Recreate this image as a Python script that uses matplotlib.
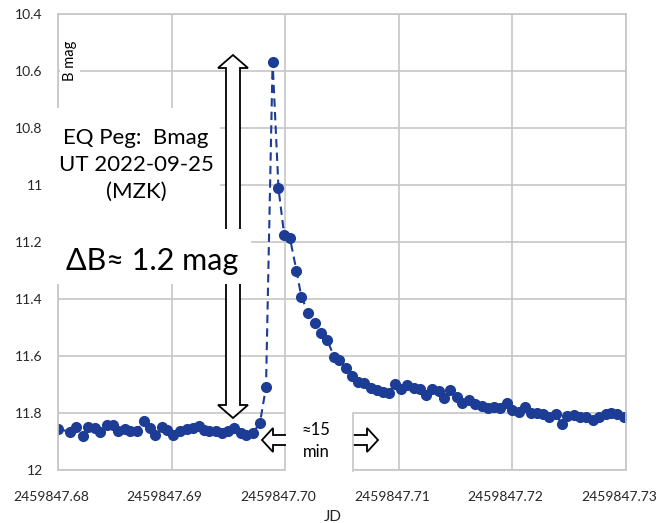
import matplotlib
matplotlib.use('Agg')
import matplotlib.pyplot as plt
import matplotlib.patches as mpatches
from matplotlib.lines import Line2D
from matplotlib.ticker import FormatStrFormatter, FuncFormatter
from matplotlib.transforms import Affine2D, ScaledTranslation

plt.rcParams['font.family'] = ['Lato', 'DejaVu Sans']

# Кривая блеска EQ Peg, фильтр B
jd_base = 2459847
jd_offset = [
    0.68000, 0.68105, 0.68158, 0.68217, 0.68263, 0.68325, 0.68368, 0.68427,
    0.68482, 0.68526, 0.68588, 0.68632, 0.68693, 0.68754, 0.68807, 0.68851,
    0.68912, 0.68956, 0.69009, 0.69070, 0.69132, 0.69184, 0.69237, 0.69281,
    0.69333, 0.69395, 0.69447, 0.69500, 0.69553, 0.69614, 0.69658, 0.69719,
    0.69778, 0.69831, 0.69889, 0.69941, 0.69991, 0.70041, 0.70099, 0.70143,
    0.70204, 0.70263, 0.70313, 0.70371, 0.70430, 0.70474, 0.70533, 0.70585,
    0.70643, 0.70693, 0.70752, 0.70810, 0.70860, 0.70912, 0.70965, 0.71015,
    0.71073, 0.71132, 0.71190, 0.71240, 0.71292, 0.71351, 0.71395, 0.71454,
    0.71511, 0.71555, 0.71614, 0.71673, 0.71731, 0.71783, 0.71842, 0.71892,
    0.71950, 0.72000, 0.72059, 0.72111, 0.72164, 0.72219, 0.72272, 0.72325,
    0.72383, 0.72433, 0.72485, 0.72544, 0.72594, 0.72652, 0.72711, 0.72763,
    0.72822, 0.72871, 0.72924, 0.72983,
]
bmag = [
    11.856, 11.866, 11.850, 11.880, 11.848, 11.852, 11.866, 11.842,
    11.842, 11.862, 11.856, 11.862, 11.862, 11.828, 11.853, 11.877,
    11.848, 11.860, 11.878, 11.862, 11.856, 11.853, 11.845, 11.860,
    11.863, 11.862, 11.870, 11.862, 11.853, 11.870, 11.877, 11.869,
    11.834, 11.709, 10.568, 11.012, 11.175, 11.185, 11.300, 11.394,
    11.448, 11.483, 11.518, 11.544, 11.603, 11.614, 11.643, 11.670,
    11.690, 11.694, 11.713, 11.719, 11.726, 11.729, 11.698, 11.717,
    11.702, 11.713, 11.717, 11.737, 11.717, 11.723, 11.749, 11.719,
    11.743, 11.766, 11.754, 11.768, 11.775, 11.784, 11.778, 11.784,
    11.764, 11.789, 11.795, 11.778, 11.801, 11.801, 11.803, 11.813,
    11.803, 11.840, 11.810, 11.807, 11.813, 11.813, 11.826, 11.813,
    11.803, 11.799, 11.805, 11.813,
]
jd = [jd_base + v for v in jd_offset]

x_ticks = [jd_base + v for v in [0.68, 0.69, 0.70, 0.71, 0.72, 0.73]]
y_ticks = [10.4, 10.6, 10.8, 11.0, 11.2, 11.4, 11.6, 11.8, 12.0]

W, H = 662, 523
grid_color = '#c6c6c6'
point_color = '#1c3c96'

fig = plt.figure(figsize=(W / 100, H / 100), dpi=100)
ax = fig.add_axes([58 / W, (H - 470) / H, (626 - 58) / W, (470 - 14) / H])

ax.plot(jd, bmag, linestyle=(0, (4, 2.5)), color=point_color, linewidth=1.5,
        marker='o', markersize=7, markerfacecolor=point_color,
        markeredgecolor=point_color, zorder=2)

ax.set_xlim(x_ticks[0], x_ticks[-1])
ax.set_ylim(12.0, 10.4)
ax.set_xticks(x_ticks)
ax.set_yticks(y_ticks)
ax.xaxis.set_major_formatter(FormatStrFormatter('%.2f'))
ax.yaxis.set_major_formatter(FuncFormatter(lambda v, p: f'{v:g}'))
ax.tick_params(axis='both', length=0, labelsize=10, colors='#262626')
ax.tick_params(axis='x', pad=15)
ax.tick_params(axis='y', pad=11)
ax.grid(True, color=grid_color, linewidth=1.2)
ax.set_axisbelow(True)
for side in ['left', 'bottom', 'top', 'right']:
    ax.spines[side].set_color(grid_color)
    ax.spines[side].set_linewidth(1.2)

# подписи по X чуть левее делений, чтобы последняя влезла
shift = ScaledTranslation(-7 / 100, 0, fig.dpi_scale_trans)
for lbl in ax.get_xticklabels():
    lbl.set_transform(lbl.get_transform() + shift)

# пиксельные координаты от верхнего левого угла
px = Affine2D().scale(1 / W, -1 / H).translate(0, 1) + fig.transFigure


def double_arrow(p0, p1, shaft=7, head_w=15, head_l=13, vertical=True):
    a, b = p0, p1
    if vertical:
        c, t0, t1 = a[0], a[1], b[1]
        pts = [(c, t0), (c + head_w, t0 + head_l), (c + shaft, t0 + head_l),
               (c + shaft, t1 - head_l), (c + head_w, t1 - head_l), (c, t1),
               (c - head_w, t1 - head_l), (c - shaft, t1 - head_l),
               (c - shaft, t0 + head_l), (c - head_w, t0 + head_l)]
    else:
        c, t0, t1 = a[1], a[0], b[0]
        pts = [(t0, c), (t0 + head_l, c - head_w), (t0 + head_l, c - shaft),
               (t1 - head_l, c - shaft), (t1 - head_l, c - head_w), (t1, c),
               (t1 - head_l, c + head_w), (t1 - head_l, c + shaft),
               (t0 + head_l, c + shaft), (t0 + head_l, c + head_w)]
    poly = mpatches.Polygon(pts, closed=True, transform=px, facecolor='white',
                            edgecolor='black', linewidth=1.3, clip_on=False,
                            zorder=3)
    ax.add_patch(poly)


double_arrow((233, 55), (233, 418))
double_arrow((262, 440), (378, 440), shaft=5, head_w=12, head_l=11,
             vertical=False)

# белые подложки под подписями
for x0, y0, w, h in [(52, 108, 168, 121), (52, 229, 199, 55),
                     (286, 412, 67, 62)]:
    ax.add_patch(mpatches.Rectangle((x0, y0), w, h, transform=px,
                                    facecolor='white', edgecolor='none',
                                    clip_on=False, zorder=4))
ax.add_line(Line2D([353, 353], [413, 471], transform=px, color=grid_color,
                   linewidth=1.2, clip_on=False, zorder=4))

ax.text(136, 165, 'EQ Peg:  Bmag\nUT 2022-09-25\n(MZK)', transform=px,
        ha='center', va='center', fontsize=16, linespacing=1.45, zorder=5)
ax.text(152, 261, 'ΔB≈ 1.2 mag', transform=px, ha='center', va='center',
        fontsize=22, zorder=5)
ax.text(316, 441, '≈15\nmin', transform=px, ha='center', va='center',
        fontsize=12, linespacing=1.5, zorder=5)
ax.text(70, 61, 'B mag', transform=px, ha='center', va='center', rotation=90,
        fontsize=10.5, zorder=5,
        bbox=dict(facecolor='white', edgecolor='none', pad=2))

fig.text(333 / W, 1 - 517 / H, 'JD', ha='center', va='center', fontsize=11,
         color='#262626')

fig.savefig('out.png', dpi=100, facecolor='white')
